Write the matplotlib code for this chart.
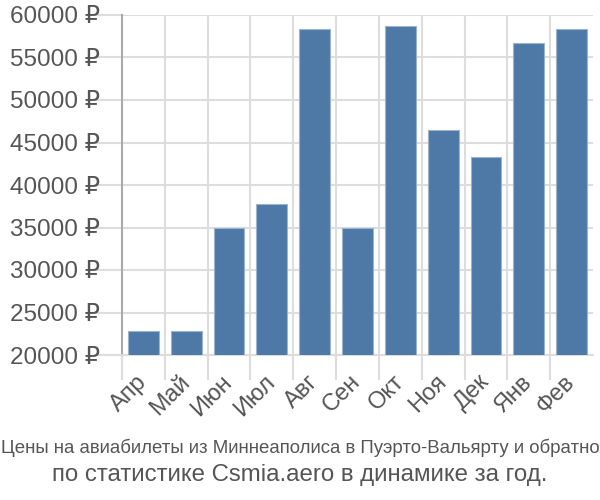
import numpy as np
import matplotlib
matplotlib.use('Agg')
import matplotlib.pyplot as plt

plt.rcParams['font.family'] = ['Liberation Sans', 'DejaVu Sans']

# данные
months = ['Апр', 'Май', 'Июн', 'Июл', 'Авг', 'Сен', 'Окт', 'Ноя', 'Дек', 'Янв', 'Фев']
prices = [22820, 22820, 34980, 37730, 58300, 34980, 58700, 46470, 43290, 56740, 58300]
yticks = [20000, 25000, 30000, 35000, 40000, 45000, 50000, 55000, 60000]

fig = plt.figure(figsize=(6, 5), dpi=100)
ax = fig.add_axes([122 / 600, 145 / 500, 471 / 600, 340 / 500])

x = np.arange(len(months))
ax.bar(x, prices, width=0.72, bottom=0, color='#4e79a7',
       edgecolor='#9ab3cf', linewidth=0.8, zorder=3)

ax.set_xlim(-0.5, len(months) - 0.5)
ax.set_ylim(20000, 60000)

# сетка по границам категорий
ax.set_xticks(x - 0.5, minor=False)
ax.set_xticks(x, minor=True)
ax.set_xticklabels([''] * len(months))
ax.set_xticklabels(months, minor=True, rotation=45, ha='right', va='center',
                   rotation_mode='anchor', fontsize=17, color='#555555')
ax.tick_params(axis='x', which='major', length=18, color='#dddddd', width=1.5)
ax.tick_params(axis='x', which='minor', length=0, pad=17)
ax.xaxis.get_major_ticks()[0].tick1line.set_color('#aaaaaa')

ax.set_yticks(yticks)
ax.set_yticklabels([f'{v} ₽' for v in yticks], fontsize=17.5, color='#555555')
ax.tick_params(axis='y', length=20, color='#dddddd', width=1.5, pad=-4)

ax.grid(True, which='major', color='#dddddd', linewidth=1.5, zorder=0)
for s in ['top', 'right']:
    ax.spines[s].set_visible(False)
ax.spines['bottom'].set_color('#dddddd')
ax.spines['bottom'].set_linewidth(1.5)
ax.spines['left'].set_color('#aaaaaa')
ax.spines['left'].set_linewidth(1.5)

fig.text(0.5, 1 - 448 / 500, 'Цены на авиабилеты из Миннеаполиса в Пуэрто-Вальярту и обратно',
         ha='center', va='center', fontsize=13.4, color='#555555')
fig.text(0.5, 1 - 475 / 500, 'по статистике Csmia.aero в динамике за год.',
         ha='center', va='center', fontsize=17.3, color='#555555')

fig.savefig('out.png', dpi=100)
